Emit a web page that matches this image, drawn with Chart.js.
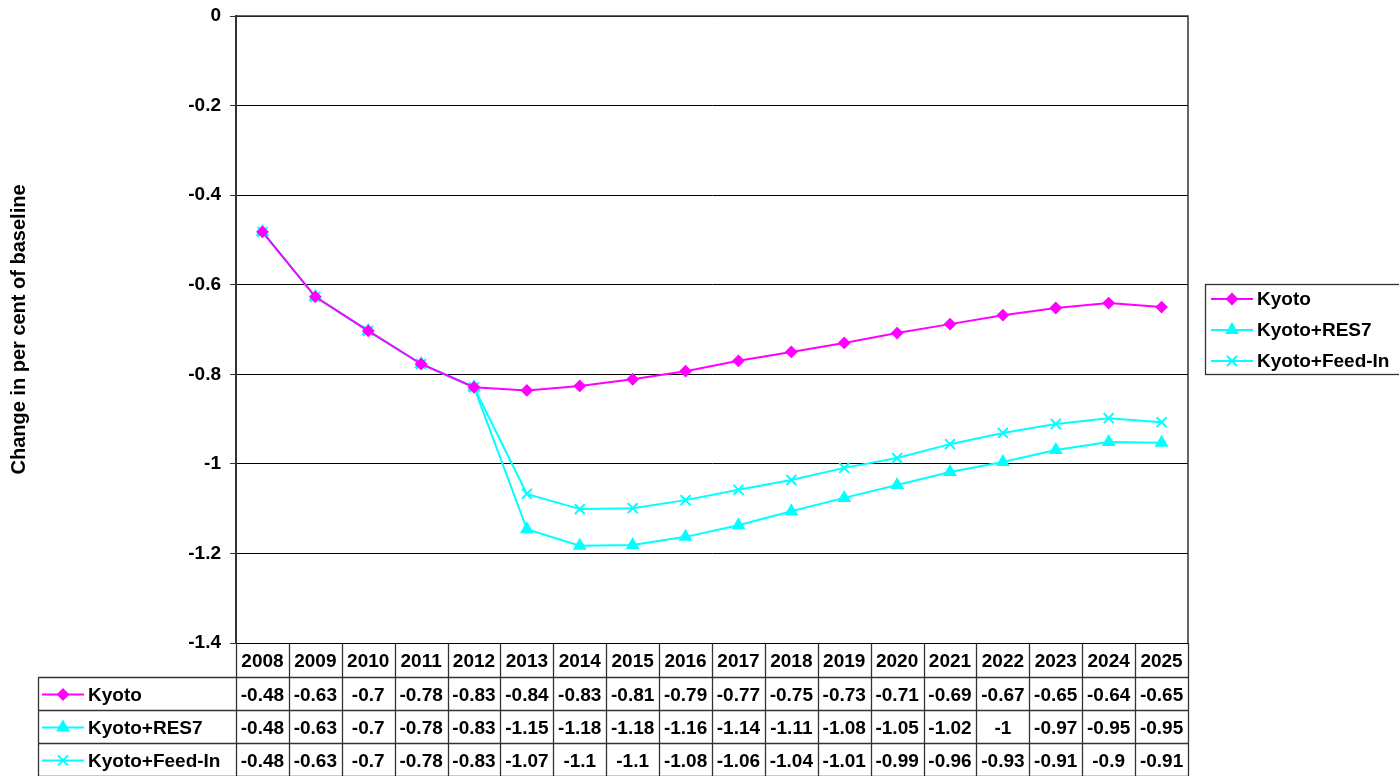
<!doctype html>
<html>
  <head>
    <title>Kyoto scenarios</title>
    <script src="https://cdn.jsdelivr.net/npm/chart.js"></script>
    <style>
      body {
        margin: 0;
        background: #fff;
      }
    </style>
  </head>

  <body>
    <canvas id="chart" width="1399" height="776"></canvas>

    <script>
      // data
      var years = ["2008", "2009", "2010", "2011", "2012", "2013", "2014", "2015", "2016",
                   "2017", "2018", "2019", "2020", "2021", "2022", "2023", "2024", "2025"];
      var seriesNames = ["Kyoto", "Kyoto+RES7", "Kyoto+Feed-In"];
      var kyoto = [-0.482, -0.627, -0.703, -0.777, -0.829, -0.836, -0.826, -0.811, -0.793,
                   -0.770, -0.750, -0.730, -0.708, -0.688, -0.668, -0.652, -0.641, -0.650];
      var kyotoRes7 = [-0.482, -0.627, -0.703, -0.777, -0.829, -1.146, -1.183, -1.181, -1.163,
                       -1.137, -1.106, -1.076, -1.047, -1.018, -0.996, -0.969, -0.951, -0.953];
      var kyotoFeedIn = [-0.482, -0.627, -0.703, -0.777, -0.829, -1.067, -1.101, -1.099, -1.081,
                         -1.058, -1.036, -1.009, -0.987, -0.956, -0.931, -0.911, -0.898, -0.907];
      var yTicks = [0, -0.2, -0.4, -0.6, -0.8, -1, -1.2, -1.4];

      var FONT = "'Liberation Sans', Arial, sans-serif";

      function fmt(v) {
        return String(Number(v.toFixed(2)));
      }

      // draws a line sample with its marker, like the excel legend keys
      function drawKey(ctx, ds, x, y) {
        ctx.save();
        ctx.strokeStyle = ds.borderColor;
        ctx.fillStyle = ds.backgroundColor;
        ctx.lineWidth = 2;
        ctx.beginPath();
        ctx.moveTo(x, y);
        ctx.lineTo(x + 42, y);
        ctx.stroke();
        Chart.helpers.drawPoint(ctx, {
          pointStyle: ds.pointStyle,
          radius: ds.pointRadius,
          rotation: 0,
          borderWidth: 2,
        }, x + 21, y);
        ctx.restore();
      }

      var tablePlugin = {
        id: "dataTable",
        beforeDatasetsDraw: function (chart) {
          var a = chart.chartArea;
          var ctx = chart.ctx;
          ctx.save();
          ctx.strokeStyle = "#333";
          ctx.lineWidth = 1.5;
          ctx.beginPath();
          ctx.moveTo(a.left, a.top);
          ctx.lineTo(a.right, a.top);
          ctx.lineTo(a.right, a.bottom);
          ctx.stroke();
          ctx.restore();
        },
        afterDraw: function (chart) {
          var ctx = chart.ctx;
          var xs = chart.scales.x;
          var a = chart.chartArea;
          var n = years.length;
          var step = xs.getPixelForValue(1) - xs.getPixelForValue(0);
          var headH = 35, rowH = 33;
          var tableLeft = 38;
          var rows = chart.data.datasets;
          var bottom = a.bottom + headH + rowH * rows.length;

          ctx.save();
          ctx.strokeStyle = "#333";
          ctx.lineWidth = 1.3;

          // vertical lines at category boundaries
          for (var i = 0; i <= n; i++) {
            var bx = Math.round(xs.getPixelForValue(0) - step / 2 + i * step) + 0.5;
            ctx.beginPath();
            ctx.moveTo(bx, a.bottom);
            ctx.lineTo(bx, bottom);
            ctx.stroke();
          }
          ctx.beginPath();
          ctx.moveTo(tableLeft + 0.5, a.bottom + headH);
          ctx.lineTo(tableLeft + 0.5, bottom);
          ctx.stroke();

          // horizontal lines
          for (var r = 0; r <= rows.length; r++) {
            var hy = Math.round(a.bottom + headH + r * rowH) - 0.5;
            ctx.beginPath();
            ctx.moveTo(tableLeft, hy);
            ctx.lineTo(a.right, hy);
            ctx.stroke();
          }

          ctx.fillStyle = "#000";
          ctx.font = "bold 19px " + FONT;
          ctx.textAlign = "center";
          ctx.textBaseline = "middle";
          for (var j = 0; j < n; j++) {
            var cx = xs.getPixelForValue(j);
            ctx.fillText(years[j], cx, a.bottom + headH / 2 + 1);
            for (var k = 0; k < rows.length; k++) {
              ctx.fillText(fmt(rows[k].data[j]), cx, a.bottom + headH + rowH * k + rowH / 2 + 1);
            }
          }

          // row labels with keys
          ctx.textAlign = "left";
          for (var m = 0; m < rows.length; m++) {
            var ry = a.bottom + headH + rowH * m + rowH / 2;
            drawKey(ctx, rows[m], tableLeft + 4, ry);
            ctx.fillStyle = "#000";
            ctx.fillText(rows[m].label, tableLeft + 50, ry + 1);
          }

          // legend box on the right
          var lx = 1205, ly = 284, lw = 200, lh = 90;
          ctx.lineWidth = 1.3;
          ctx.strokeRect(lx + 0.5, ly + 0.5, lw, lh);
          for (var q = 0; q < rows.length; q++) {
            var ey = ly + 15 + q * 31;
            drawKey(ctx, rows[q], lx + 6, ey);
            ctx.fillStyle = "#000";
            ctx.fillText(rows[q].label, lx + 52, ey + 1);
          }
          ctx.restore();
        },
      };

      var ctx = document.getElementById("chart").getContext("2d");
      var chart = new Chart(ctx, {
        type: "line",
        data: {
          labels: years,
          datasets: [
            {
              label: seriesNames[0],
              data: kyoto,
              borderColor: "#FF00FF",
              backgroundColor: "#FF00FF",
              pointStyle: "rectRot",
              pointRadius: 5,
            },
            {
              label: seriesNames[1],
              data: kyotoRes7,
              borderColor: "#00FFFF",
              backgroundColor: "#00FFFF",
              pointStyle: "triangle",
              pointRadius: 6,
            },
            {
              label: seriesNames[2],
              data: kyotoFeedIn,
              borderColor: "#00FFFF",
              backgroundColor: "#00FFFF",
              pointStyle: "crossRot",
              pointRadius: 7,
            },
          ],
        },
        options: {
          responsive: false,
          animation: false,
          elements: {
            line: { borderWidth: 2, tension: 0 },
            point: { borderWidth: 2, hoverRadius: 6 },
          },
          layout: {
            padding: { left: 0, right: 211, top: 16, bottom: 133 },
          },
          plugins: {
            legend: { display: false },
            tooltip: { enabled: false },
          },
          scales: {
            x: {
              offset: true,
              grid: { display: false, drawTicks: false },
              border: { display: false },
              ticks: { display: false },
            },
            y: {
              min: -1.4,
              max: 0,
              afterFit: function (scale) {
                scale.width = 236;
                scale.paddingTop = 0;
                scale.paddingBottom = 0;
              },
              afterBuildTicks: function (scale) {
                scale.ticks = yTicks.map(function (v) {
                  return { value: v };
                });
              },
              ticks: {
                padding: 9,
                color: "#000",
                font: { family: FONT, size: 19, weight: "bold" },
                callback: function (v) {
                  return String(Number(v.toFixed(1)));
                },
              },
              grid: {
                color: "#000",
                lineWidth: 1,
                tickLength: 6,
                tickColor: "#333",
              },
              border: { color: "#333", width: 2 },
              title: {
                display: true,
                text: "Change in per cent of baseline",
                color: "#000",
                font: { family: FONT, size: 20, weight: "bold" },
                padding: { top: 7, bottom: 0 },
              },
            },
          },
        },
        plugins: [tablePlugin],
      });
    </script>
  </body>
</html>
